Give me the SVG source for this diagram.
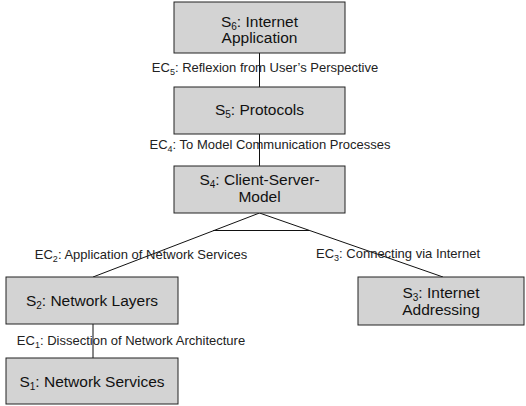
<svg xmlns="http://www.w3.org/2000/svg" width="526" height="406" viewBox="0 0 526 406">
<style>
.box{fill:#d3d3d3;stroke:#222;stroke-width:1}
.t{font-family:"Liberation Sans",Arial,sans-serif;font-size:15.5px;fill:#111;text-anchor:middle}
.l{font-family:"Liberation Sans",Arial,sans-serif;font-size:13px;fill:#222;text-anchor:middle}
.c{stroke:#111;stroke-width:1;fill:none}
.t .sub{font-size:10px}
.l .sub{font-size:9px}
</style>
<rect x="0" y="0" width="526" height="406" fill="#fff"/>
<g id="connectors">
<line class="c" x1="259.5" y1="53" x2="259.5" y2="87"/>
<line class="c" x1="259.5" y1="134" x2="259.5" y2="166"/>
<line class="c" x1="259.5" y1="213" x2="93" y2="277"/>
<line class="c" x1="259.5" y1="213" x2="443" y2="277"/>
<line class="c" x1="213" y1="230.5" x2="309" y2="230.5"/>
<line class="c" x1="93" y1="324" x2="93" y2="358"/>
</g>
<g id="labels">
<text class="l" x="265" y="72">EC<tspan class="sub" dy="3">5</tspan><tspan dy="-3">: Reflexion from User’s Perspective</tspan></text>
<text class="l" x="270" y="149">EC<tspan class="sub" dy="3">4</tspan><tspan dy="-3">: To Model Communication Processes</tspan></text>
<text class="l" x="141" y="259">EC<tspan class="sub" dy="3">2</tspan><tspan dy="-3">: Application of Network Services</tspan></text>
<text class="l" x="398" y="258">EC<tspan class="sub" dy="3">3</tspan><tspan dy="-3">: Connecting via Internet</tspan></text>
<text class="l" x="131" y="345">EC<tspan class="sub" dy="3">1</tspan><tspan dy="-3">: Dissection of Network Architecture</tspan></text>
</g>
<g id="s6">
<rect class="box" x="174" y="2" width="171" height="51"/>
<text class="t" x="259.5" y="27">S<tspan class="sub" dy="3">6</tspan><tspan dy="-3">: Internet</tspan></text>
<text class="t" x="259.5" y="43">Application</text>
</g>
<g id="s5">
<rect class="box" x="174" y="87" width="171" height="47"/>
<text class="t" x="259.5" y="115">S<tspan class="sub" dy="3">5</tspan><tspan dy="-3">: Protocols</tspan></text>
</g>
<g id="s4">
<rect class="box" x="174" y="166" width="171" height="47"/>
<text class="t" x="259.5" y="185">S<tspan class="sub" dy="3">4</tspan><tspan dy="-3">: Client-Server-</tspan></text>
<text class="t" x="259.5" y="202">Model</text>
</g>
<g id="s2">
<rect class="box" x="6" y="277" width="172" height="47"/>
<text class="t" x="92" y="306">S<tspan class="sub" dy="3">2</tspan><tspan dy="-3">: Network Layers</tspan></text>
</g>
<g id="s3">
<rect class="box" x="358" y="277" width="166" height="48"/>
<text class="t" x="441" y="298">S<tspan class="sub" dy="3">3</tspan><tspan dy="-3">: Internet</tspan></text>
<text class="t" x="441" y="315">Addressing</text>
</g>
<g id="s1">
<rect class="box" x="6" y="358" width="172" height="46"/>
<text class="t" x="92" y="387">S<tspan class="sub" dy="3">1</tspan><tspan dy="-3">: Network Services</tspan></text>
</g>
</svg>
